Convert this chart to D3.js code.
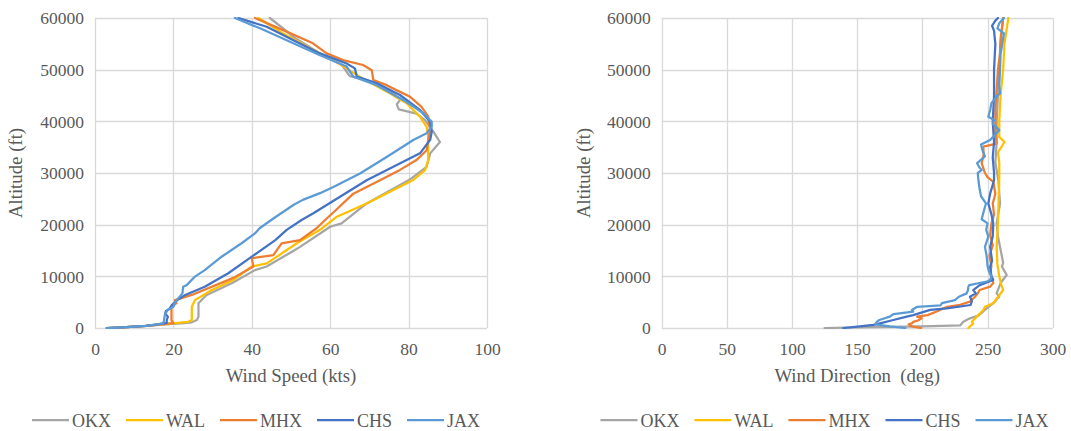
<!DOCTYPE html>
<html>
<head>
<meta charset="utf-8">
<script src="https://cdn.jsdelivr.net/npm/d3@7"></script>
<style>
  body { margin: 0; background: #ffffff; }
  svg text { font-family: "Liberation Serif", Tinos, "Times New Roman", Times, "DejaVu Serif", serif; }
</style>
</head>
<body>
<svg id="chart" width="1071" height="431"></svg>
<script>
// Radiosonde stations and their line colours
const stations = ["OKX", "WAL", "MHX", "CHS", "JAX"];
const stationColors = ["#A5A5A5", "#FFC000", "#ED7D31", "#4472C4", "#5B9BD5"];

// Axis ticks
const altitudeTicks = [0, 10000, 20000, 30000, 40000, 50000, 60000];
const speedTicks = [0, 20, 40, 60, 80, 100];
const directionTicks = [0, 50, 100, 150, 200, 250, 300];

// Wind speed profiles: [altitude (ft), speed (kts)]
const okxSpeed = [[0,3],[150,8],[400,13],[700,18],[900,22],[1100,24.7],[1550,26],[2200,26.4],[4800,26.4],[6050,28],[6400,28.5],[8700,35],[11200,40.8],[11900,43.8],[15100,51],[15700,52.3],[19600,60],[20250,62.9],[24100,69.3],[28600,80],[29000,80.8],[31200,84.6],[33800,85.5],[36000,88],[38000,86.3],[40250,84.2],[41500,82],[42300,77.5],[43300,77],[44300,78],[46700,73.5],[48000,69.3],[48750,65],[49600,64.2],[50900,63],[53150,57.4],[56350,50.6],[58000,48],[60000,44.6]];
const walSpeed = [[0,3],[150,8],[400,13],[700,17],[1000,21],[1200,23.8],[1550,24.7],[4100,24.7],[5400,25.5],[7350,29.8],[9300,35.3],[11900,40],[12500,43.8],[16400,51.5],[19000,57.4],[20250,59.5],[21550,61.7],[24100,69.3],[26700,76.1],[28650,81.2],[30550,84.2],[32500,85],[37000,85],[38950,84.6],[40900,82.9],[43500,79.5],[45400,75.3],[48600,67.6],[51850,60.8],[53150,57.4],[57000,48],[60000,41.7]];
const mhxSpeed = [[0,3],[150,8],[400,13],[700,17],[950,20],[1500,19.5],[4100,19.5],[4800,20.8],[5400,20.4],[6400,24.7],[9700,35.3],[11900,40.4],[13500,40],[14100,45.5],[16400,47.6],[17000,52.3],[19300,56.5],[20900,58.7],[22500,61],[26000,65.9],[28600,72.7],[30600,77.8],[32500,82],[34400,84.6],[36400,85],[38300,85.5],[40900,85],[42800,83.3],[44750,80.4],[45700,77.8],[47000,74.4],[48000,71],[49900,70.6],[50900,68.4],[51850,63.3],[53150,59.1],[55100,55.6],[57650,48],[60000,40.8]];
const chsSpeed = [[0,3],[150,8],[400,13],[700,16],[1000,18.3],[1500,18.3],[2200,18.6],[2800,17.9],[3300,18.1],[3700,19],[4450,19.6],[5400,21],[6400,23],[8000,28],[10600,34],[13800,40],[17000,46],[19000,48.9],[20900,52.7],[22200,55.7],[25400,62.5],[28600,69.3],[31200,76.1],[33800,82.9],[36400,85.5],[38000,85.9],[39900,85.5],[42200,82.9],[45100,77.8],[47350,71.9],[48650,66.8],[50250,66.3],[51200,64.2],[53150,57.4],[55700,50.6],[58300,43.8],[60000,36.6]];
const jaxSpeed = [[0,3],[150,8],[400,13],[700,16],[900,17.4],[1500,17.6],[2500,17.8],[3500,18.5],[4100,20],[5100,20.5],[6700,22.3],[8000,22.5],[8300,23.4],[9950,25.5],[11200,28],[13800,32.3],[16400,37.4],[18300,40.8],[19300,42],[21200,45.5],[23800,50.6],[24800,53],[26100,57.4],[27300,60.8],[29900,67.6],[33100,74.4],[36400,81.2],[37700,84.6],[38950,85.9],[39900,85.9],[41550,83.8],[44100,78.7],[47000,71.9],[48650,65.9],[50600,64.2],[52800,57.4],[55700,48.9],[58000,42.1],[60000,35.7]];

// Wind direction profiles: [altitude (ft), direction (deg)]
const okxDir = [[0,125],[150,160],[300,200],[500,229],[1200,231.4],[1870,236.5],[2400,243],[3500,248],[4800,254.4],[6050,259],[6700,257],[8700,260],[10250,264.7],[11900,261],[12600,262],[15700,259.6],[17700,258],[20250,257],[24100,259.6],[28600,258.3],[32000,256],[36000,257],[40000,257],[45000,258],[50000,259],[55000,260],[60000,262]];
const walDir = [[0,235.3],[900,239],[1200,238],[2200,241.7],[3500,246.8],[4100,248],[4800,254.4],[6000,258],[7350,262],[8000,261],[9950,259],[12500,257.5],[15700,257],[20250,258],[24800,258.5],[28600,259],[32000,259],[34000,258],[36000,263],[37000,259],[40000,259],[45000,260],[50000,262],[55000,263],[60000,266]];
const mhxDir = [[0,199],[300,191.8],[700,189.5],[900,192],[1200,193],[1500,197],[1870,199.5],[2200,196],[2500,204],[3200,211],[4100,219],[4500,229],[5100,236.5],[6050,240.4],[6700,242.5],[7350,244],[8000,251.9],[8700,254.4],[9300,254],[10600,252],[12000,253],[14000,251.5],[16000,254],[18000,252],[20250,253],[22000,255],[24100,254],[26000,256],[28300,254.4],[29200,250],[30000,248],[31900,245.5],[33500,247],[35100,246.8],[35700,257],[38000,256],[42000,256],[46000,257],[50000,258],[53000,259.5],[56000,260],[60000,262]];
const chsDir = [[0,139.3],[300,152],[600,162.4],[900,167.5],[1550,177.7],[2200,188],[2500,193],[3500,206],[3800,218.7],[4450,237],[5200,238],[6050,236.5],[6700,241],[7350,239],[8300,244],[9300,254.4],[10000,253],[11900,252],[13000,253.5],[15700,252],[17700,254],[20250,254.4],[22000,253],[24100,250.6],[26000,252],[28600,255],[30000,255],[33000,254],[36000,255],[40000,254],[45000,255],[50000,255],[55000,256],[57500,255],[58500,253.5],[59500,256],[60000,258]];
const jaxDir = [[0,187],[300,175],[700,164],[1200,165],[1550,167],[2200,175],[2700,178],[3150,193],[3500,192],[4100,196],[4400,214],[4800,215],[5400,225],[6050,228],[6700,234],[7350,235],[8000,235.3],[8300,236],[9000,249.4],[9300,252],[10000,253],[11000,251],[12000,250],[13800,249.4],[15700,248],[17700,250.6],[19000,249],[20250,250],[21050,245.5],[22500,247],[24100,248.8],[25500,245],[26800,244],[28600,243],[30000,242.5],[30600,245.5],[31000,244],[31900,242],[33200,248],[34500,246],[35500,245],[36400,252],[38300,259],[39500,254],[40250,255],[40900,250.6],[42200,252],[43500,253],[44800,257],[45400,259.6],[47000,259],[50000,259.6],[53000,260],[57000,262.6],[58000,257.6],[59000,259],[60000,262.6]];

const speedSeries = [okxSpeed, walSpeed, mhxSpeed, chsSpeed, jaxSpeed];
const directionSeries = [okxDir, walDir, mhxDir, chsDir, jaxDir];

const fontStack = '"Liberation Serif", Tinos, "Times New Roman", Times, "DejaVu Serif", serif';
const textColor = "#595959";
const gridColor = "#D9D9D9";

const svg = d3.select("#chart").attr("font-family", fontStack);
svg.append("rect").attr("width", 1071).attr("height", 431).attr("fill", "#ffffff");

function drawPanel(opts) {
  const { id, x0, x1, y0, y1, xDomain, xTicks, xTitle, series, yTitleX, legendCenter } = opts;
  const g = svg.append("g").attr("class", "panel-" + id);

  const x = d3.scaleLinear().domain(xDomain).range([x0, x1]);
  const y = d3.scaleLinear().domain([0, 60000]).range([y1, y0]);

  // gridlines
  const grid = g.append("g").attr("class", "grid");
  grid.selectAll("line.v").data(xTicks).join("line")
    .attr("class", "v")
    .attr("x1", d => Math.round(x(d)) + 0.5).attr("x2", d => Math.round(x(d)) + 0.5)
    .attr("y1", y0).attr("y2", y1)
    .attr("stroke", gridColor).attr("stroke-width", 1.3);
  grid.selectAll("line.h").data(altitudeTicks).join("line")
    .attr("class", "h")
    .attr("y1", d => Math.round(y(d)) + 0.5).attr("y2", d => Math.round(y(d)) + 0.5)
    .attr("x1", x0).attr("x2", x1)
    .attr("stroke", gridColor).attr("stroke-width", 1.3);

  // axes (tick labels only)
  const xAxis = d3.axisBottom(x).tickValues(xTicks).tickSize(0).tickPadding(0).tickFormat(d3.format("d"));
  const gx = g.append("g").attr("transform", `translate(0,${y1})`).call(xAxis)
    .attr("font-family", fontStack).attr("font-size", null);
  gx.select(".domain").remove();
  gx.selectAll("text")
    .attr("y", 27).attr("dy", null)
    .attr("fill", textColor).style("font-size", "17.5px");

  const yAxis = d3.axisLeft(y).tickValues(altitudeTicks).tickSize(0).tickPadding(0).tickFormat(d3.format("d"));
  const gy = g.append("g").attr("transform", `translate(${x0},0)`).call(yAxis)
    .attr("font-family", fontStack).attr("font-size", null);
  gy.select(".domain").remove();
  gy.selectAll("text")
    .attr("x", -11).attr("dy", "0.34em")
    .attr("fill", textColor).style("font-size", "17.5px");

  // axis titles
  g.append("text")
    .attr("x", (x0 + x1) / 2).attr("y", 382)
    .attr("text-anchor", "middle")
    .attr("fill", textColor).style("font-size", "18.8px")
    .style("white-space", "pre")
    .text(xTitle);
  g.append("text")
    .attr("transform", `translate(${yTitleX},${(y0 + y1) / 2}) rotate(-90)`)
    .attr("text-anchor", "middle")
    .attr("fill", textColor).style("font-size", "18.8px")
    .text("Altitude (ft)");

  // clipped profile lines
  g.append("clipPath").attr("id", "clip-" + id)
    .append("rect").attr("x", x0).attr("y", y0 - 1).attr("width", x1 - x0).attr("height", y1 - y0 + 2);
  const line = d3.line().x(d => x(d[1])).y(d => y(d[0]));
  g.append("g").attr("clip-path", `url(#clip-${id})`)
    .selectAll("path").data(series).join("path")
    .attr("d", line)
    .attr("fill", "none")
    .attr("stroke", (d, i) => stationColors[i])
    .attr("stroke-width", 2.25)
    .attr("stroke-linejoin", "round")
    .attr("stroke-linecap", "round");

  // legend
  const lg = g.append("g");
  const items = lg.selectAll("g").data(stations).join("g");
  items.append("line")
    .attr("x1", 0).attr("x2", 37).attr("y1", 420).attr("y2", 420)
    .attr("stroke", (d, i) => stationColors[i]).attr("stroke-width", 2.25);
  items.append("text")
    .attr("x", 40).attr("y", 426.5)
    .attr("fill", textColor).style("font-size", "18px")
    .text(d => d);
  let cursor = 0;
  const offsets = [];
  items.each(function () {
    offsets.push(cursor);
    const w = 40 + d3.select(this).select("text").node().getComputedTextLength();
    cursor += w + 15;
  });
  const total = cursor - 15;
  const start = legendCenter - total / 2;
  items.attr("transform", (d, i) => `translate(${start + offsets[i]},0)`);
}

drawPanel({
  id: "speed", x0: 95, x1: 487, y0: 18, y1: 328,
  xDomain: [0, 100], xTicks: speedTicks, xTitle: "Wind Speed (kts)",
  series: speedSeries, yTitleX: 22, legendCenter: 256
});

drawPanel({
  id: "direction", x0: 661.7, x1: 1052.7, y0: 18, y1: 328,
  xDomain: [0, 300], xTicks: directionTicks, xTitle: "Wind Direction  (deg)",
  series: directionSeries, yTitleX: 590, legendCenter: 824.5
});
</script>
</body>
</html>
